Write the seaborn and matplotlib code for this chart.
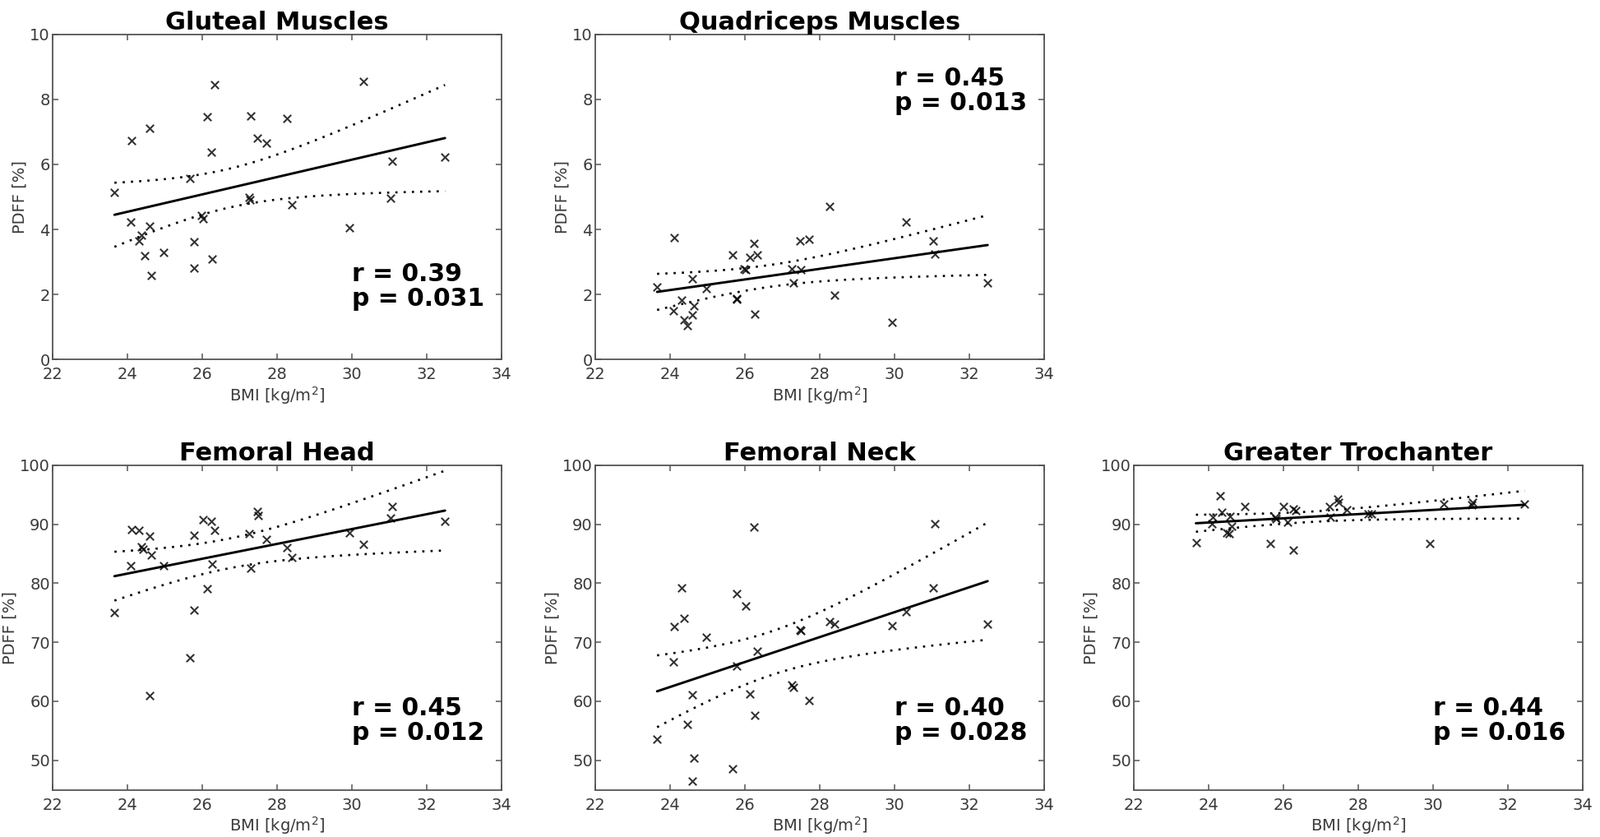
import numpy as np
import pandas as pd
import matplotlib
matplotlib.use("Agg")
import matplotlib.pyplot as plt
import matplotlib.transforms as mtransforms
import seaborn as sns

# ---------------- data ----------------
titles = ["Gluteal Muscles", "Quadriceps Muscles", "Femoral Head", "Femoral Neck", "Greater Trochanter"]
stats_r = ["0.39", "0.45", "0.45", "0.40", "0.44"]
stats_p = ["0.031", "0.013", "0.012", "0.028", "0.016"]

bmi_glut = [23.66, 24.10, 24.12, 24.31, 24.37, 24.46, 24.61, 24.61, 24.65, 24.97, 25.67, 25.79, 25.79,
            25.98, 26.02, 26.14, 26.25, 26.27, 26.34, 27.25, 27.27, 27.31, 27.48, 27.71, 28.27, 28.40,
            29.94, 30.31, 31.03, 31.07, 32.49]
pdff_glut = [5.13, 4.22, 6.72, 3.65, 3.82, 3.18, 7.11, 4.11, 2.58, 3.29, 5.58, 3.63, 2.81,
             4.44, 4.33, 7.46, 6.37, 3.08, 8.44, 4.99, 4.91, 7.49, 6.81, 6.66, 7.41, 4.77,
             4.04, 8.56, 4.95, 6.10, 6.22]

bmi_quad = [23.66, 24.10, 24.12, 24.31, 24.37, 24.46, 24.61, 24.61, 24.65, 24.97, 25.67, 25.79, 25.79,
            25.98, 26.02, 26.14, 26.25, 26.27, 26.34, 27.25, 27.31, 27.48, 27.50, 27.71, 28.27, 28.40,
            29.94, 30.31, 31.03, 31.07, 32.49]
pdff_quad = [2.24, 1.50, 3.76, 1.82, 1.22, 1.05, 2.49, 1.36, 1.64, 2.17, 3.21, 1.89, 1.85,
             2.79, 2.77, 3.14, 3.58, 1.39, 3.22, 2.79, 2.37, 3.65, 2.77, 3.71, 4.72, 1.99,
             1.15, 4.23, 3.64, 3.24, 2.37]

bmi_head = [23.66, 24.10, 24.12, 24.31, 24.37, 24.42, 24.61, 24.61, 24.65, 24.97, 25.67, 25.79, 25.79,
            26.03, 26.14, 26.25, 26.27, 26.34, 27.25, 27.31, 27.48, 27.50, 27.71, 28.27, 28.40,
            29.94, 30.31, 31.03, 31.07, 32.49]
pdff_head = [74.97, 82.99, 89.06, 88.97, 86.18, 85.80, 87.95, 60.92, 84.75, 82.99, 67.41, 88.18, 75.52,
             90.73, 79.09, 90.55, 83.27, 88.97, 88.36, 82.57, 92.12, 91.50, 87.39, 86.00, 84.42,
             88.50, 86.65, 91.05, 92.95, 90.55]

bmi_neck = [23.66, 24.10, 24.12, 24.31, 24.37, 24.46, 24.61, 24.65, 24.61, 24.97, 25.67, 25.79, 25.79,
            26.03, 26.14, 26.25, 26.34, 26.27, 27.25, 27.31, 27.48, 27.50, 27.71, 28.27, 28.40,
            29.94, 30.31, 31.07, 31.03, 32.49]
pdff_neck = [53.64, 66.62, 72.70, 79.18, 74.04, 56.15, 61.15, 50.35, 46.50, 70.89, 48.60, 78.26, 66.02,
             76.17, 61.24, 89.52, 68.47, 57.63, 62.77, 62.31, 72.14, 71.95, 60.17, 73.44, 73.02,
             72.84, 75.24, 90.03, 79.23, 73.11]

bmi_gt = [23.66, 24.08, 24.10, 24.30, 24.36, 24.48, 24.55, 24.57, 24.61, 24.96, 25.64, 25.79, 25.81,
          26.01, 26.12, 26.26, 26.26, 26.32, 27.22, 27.26, 27.46, 27.48, 27.70, 28.26, 28.36,
          29.91, 30.29, 31.03, 31.05, 32.45]
pdff_gt = [86.88, 90.13, 91.15, 94.85, 91.98, 88.50, 88.36, 91.28, 89.66, 92.95, 86.79, 91.15, 90.90,
           93.05, 90.36, 92.58, 85.58, 92.26, 93.00, 91.15, 94.30, 93.74, 92.44, 91.70, 91.70,
           86.69, 93.46, 93.30, 93.74, 93.37]

xs = [bmi_glut, bmi_quad, bmi_head, bmi_neck, bmi_gt]
ys = [pdff_glut, pdff_quad, pdff_head, pdff_neck, pdff_gt]

x_ticks = [22, 24, 26, 28, 30, 32, 34]
y_ticks_top = [0, 2, 4, 6, 8, 10]
y_ticks_bottom = [50, 60, 70, 80, 90, 100]

# ---------------- style ----------------
sns.set_style("ticks")
plt.rcParams["font.family"] = ["DejaVu Sans"]
grey = "#3a3a3a"
spine_c = "#555555"

fig = plt.figure(figsize=(19.46, 10.18), dpi=100)
W, H = 1946.0, 1018.0
boxes = [
    (63.6, 41.7, 610.0, 437.3),
    (723.6, 41.7, 1270.0, 437.3),
    (63.6, 565.7, 610.0, 960.7),
    (723.6, 565.7, 1270.0, 960.7),
    (1379.0, 565.7, 1925.0, 960.7),
]

for i, (l, t, r, b) in enumerate(boxes):
    ax = fig.add_axes([l / W, 1 - b / H, (r - l) / W, (b - t) / H])
    x = np.asarray(xs[i], float)
    y = np.asarray(ys[i], float)
    df = pd.DataFrame({"BMI": x, "PDFF": y})

    # scatter + fitted line
    sns.regplot(data=df, x="BMI", y="PDFF", ax=ax, ci=None, marker="x", truncate=True,
                scatter_kws={"color": "black", "s": 46, "linewidths": 1.5},
                line_kws={"color": "black", "lw": 2.1})

    # 95% confidence band of the regression line (dotted)
    n = len(x)
    slope, icpt = np.polyfit(x, y, 1)
    resid = y - (slope * x + icpt)
    s = np.sqrt(np.sum(resid ** 2) / (n - 2))
    sxx = np.sum((x - x.mean()) ** 2)
    tval = 2.05
    grid = np.linspace(x.min(), x.max(), 100)
    fit = slope * grid + icpt
    half = tval * s * np.sqrt(1.0 / n + (grid - x.mean()) ** 2 / sxx)
    for band in (fit + half, fit - half):
        sns.lineplot(x=grid, y=band, ax=ax, color="black", lw=1.9,
                     linestyle=(0, (1.0, 2.8)), estimator=None)

    ax.set_xlim(22, 34)
    ax.set_xticks(x_ticks)
    if i < 2:
        ax.set_ylim(0, 10)
        ax.set_yticks(y_ticks_top)
        y_p = 1.65 if i == 0 else 7.66
    else:
        ax.set_ylim(45, 100)
        ax.set_yticks(y_ticks_bottom)
        y_p = 53.5

    ax.set_xlabel("BMI [kg/m$^2$]", fontsize=14, color=grey, labelpad=2)
    ax.set_ylabel("PDFF [%]", fontsize=14, color=grey, labelpad=2)
    ax.set_title(titles[i], fontsize=22, fontweight="bold", color="black",
                 pad=3 if i < 2 else 4)

    ax.tick_params(axis="both", which="both", direction="in", top=True, right=True,
                   length=5, width=1.1, color=spine_c, labelsize=14, labelcolor=grey)
    ax.tick_params(axis="x", pad=6.5)
    ax.tick_params(axis="y", pad=2)
    for sp in ax.spines.values():
        sp.set_visible(True)
        sp.set_color(spine_c)
        sp.set_linewidth(1.3)

    # statistics text
    ax.text(30.0, y_p, "p = " + stats_p[i], fontsize=21.5, fontweight="bold",
            ha="left", va="baseline", color="black")
    trans = mtransforms.offset_copy(ax.transData, fig=fig, x=0, y=30, units="dots")
    ax.text(30.0, y_p, "r = " + stats_r[i], fontsize=21.5, fontweight="bold",
            ha="left", va="baseline", color="black", transform=trans)

fig.savefig("out.png", dpi=100)
